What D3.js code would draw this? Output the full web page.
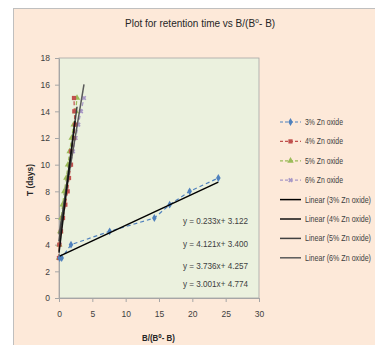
<!DOCTYPE html>
<html>
<head>
<meta charset="utf-8">
<script src="https://cdn.jsdelivr.net/npm/d3@7"></script>
<style>
  body { margin: 0; background: #fff; }
  text { font-family: "Liberation Sans", "DejaVu Sans", sans-serif; }
</style>
</head>
<body>
<svg width="375" height="345"></svg>
<script>
// series labels
var seriesNames = ["3% Zn oxide", "4% Zn oxide", "5% Zn oxide", "6% Zn oxide"];
// retention time (days) per series
var tDays3 = [3, 3, 4, 5, 6, 7, 8, 9];
var tDays = [3, 4, 5, 6, 7, 8, 9, 10, 11, 12, 13, 14, 15];
// B/(B0-B) values
var ratio3 = [0.1, 0.4, 1.8, 7.6, 14.3, 16.6, 19.6, 23.9];
var ratio4 = [0.0, 0.05, 0.3, 0.6, 0.95, 1.3, 1.5, 1.8, 1.8, 2.25, 2.4, 2.3, 2.25];
var ratio5 = [0.0, 0.05, 0.2, 0.35, 0.55, 0.8, 1.1, 1.35, 1.6, 1.9, 2.2, 2.5, 2.7];
var ratio6 = [0.0, 0.1, 0.25, 0.4, 0.65, 0.95, 1.3, 1.7, 2.1, 2.5, 2.9, 3.3, 3.75];
// linear trend lines shown on the chart
var slopes = [0.233, 4.121, 3.736, 3.001];
var intercepts = [3.122, 3.400, 4.257, 4.774];
var equations = ["y = 0.233x+ 3.122", "y = 4.121x+ 3.400", "y = 3.736x+ 4.257", "y = 3.001x+ 4.774"];
var xTicks = [0, 5, 10, 15, 20, 25, 30];
var yTicks = [0, 2, 4, 6, 8, 10, 12, 14, 16, 18];

var colors = ["#4f81bd", "#c0504d", "#9bbb59", "#a898c6"];
var trendColors = ["#000", "#111", "#404040", "#5a5a5a"];
var symbols = [d3.symbolDiamond, d3.symbolSquare, d3.symbolTriangle, d3.symbolCross];

var series = [
  { x: ratio3, y: tDays3 },
  { x: ratio4, y: tDays },
  { x: ratio5, y: tDays },
  { x: ratio6, y: tDays }
];

var svg = d3.select("svg");

// the original uses a narrow font: place text at (px,py) and squeeze it to width w
function narrowAt(sel, px, py, w, rot) {
  sel.each(function(d, i) {
    var t = d3.select(this);
    var ww = typeof w === "function" ? w(d, i) : w;
    var yy = typeof py === "function" ? py(d, i) : py;
    var sx = Math.min(1, ww / this.getComputedTextLength());
    t.attr("transform", "translate(" + px + "," + yy + ")" + (rot ? " rotate(" + rot + ")" : "") + " scale(" + sx + ",1)");
  });
}

// chart area
svg.append("rect").attr("x", 13.5).attr("y", 8.5).attr("width", 380).attr("height", 360)
  .attr("fill", "#fde9d9").attr("stroke", "#bfbfbf");

var x = d3.scaleLinear().domain([0, 30]).range([59, 259]);
var y = d3.scaleLinear().domain([0, 18]).range([298, 58]);

svg.append("rect").attr("x", x(0)).attr("y", y(18)).attr("width", x(30) - x(0)).attr("height", y(0) - y(18))
  .attr("fill", "#ebf1de").attr("stroke", "#a6a6a6").attr("stroke-width", 0.8);

// title
svg.append("text")
  .attr("font-size", 10).attr("fill", "#262626")
  .text("Plot for retention time vs B/(B\u2070- B)")
  .call(narrowAt, 125, 27, 152);

// axes
var xAxis = svg.append("g").attr("transform", "translate(0," + y(0) + ")")
  .call(d3.axisBottom(x).tickValues(xTicks).tickSize(4).tickSizeOuter(0).tickPadding(9));
var yAxis = svg.append("g").attr("transform", "translate(" + x(0) + ",0)")
  .call(d3.axisLeft(y).tickValues(yTicks).tickSize(4).tickSizeOuter(0).tickPadding(5));
[xAxis, yAxis].forEach(function(a) {
  a.select(".domain").attr("stroke", "#a6a6a6");
  a.selectAll(".tick line").attr("stroke", "#a6a6a6");
  a.selectAll(".tick text").attr("fill", "#404040").attr("font-size", 8.5)
    .style("font-family", "'Liberation Sans', sans-serif");
});

svg.append("text")
  .attr("font-size", 9).attr("fill", "#262626").attr("font-weight", "bold")
  .text("B/(B\u2070- B)")
  .call(narrowAt, 142, 341, 33);

svg.append("text")
  .attr("font-size", 9).attr("fill", "#262626").attr("font-weight", "bold").text("T (days)")
  .call(narrowAt, 33, 196, 32, -90);

var line = d3.line().x(function(d) { return x(d[0]); }).y(function(d) { return y(d[1]); });

// data series (drawn back to front)
[3, 2, 1, 0].forEach(function(i) {
  var pts = d3.zip(series[i].x, series[i].y);
  svg.append("path").datum(pts).attr("d", line).attr("fill", "none")
    .attr("stroke", colors[i]).attr("stroke-width", 1.2).attr("stroke-dasharray", "4,3");
  svg.append("g").selectAll("path").data(pts).enter().append("path")
    .attr("transform", function(d) { return "translate(" + x(d[0]) + "," + y(d[1]) + ")" + (i === 3 ? " rotate(45)" : ""); })
    .attr("d", d3.symbol().type(symbols[i]).size(i === 3 ? 14 : 18))
    .attr("fill", colors[i]);
});

// trend lines over each series' x range
[3, 2, 1, 0].forEach(function(i) {
  var ext = d3.extent(series[i].x);
  var pts = ext.map(function(v) { return [v, slopes[i] * v + intercepts[i]]; });
  svg.append("path").datum(pts).attr("d", line).attr("fill", "none")
    .attr("stroke", trendColors[i]).attr("stroke-width", 1.5);
});

// equation labels
var eqY = [224, 247, 269, 287];
svg.selectAll(".eq").data(equations).enter().append("text")
  .attr("font-size", 9).attr("fill", "#404040").text(function(d) { return d; })
  .call(narrowAt, 183, function(d, i) { return eqY[i]; }, 65);

// legend
var legendNames = seriesNames.concat(seriesNames.map(function(n) { return "Linear (" + n + ")"; }));
var leg = svg.append("g").selectAll("g").data(legendNames).enter().append("g")
  .attr("transform", function(d, i) { return "translate(280," + (122 + i * 19.4) + ")"; });
leg.append("line").attr("x1", 0).attr("x2", 21).attr("y1", 0).attr("y2", 0)
  .attr("stroke", function(d, i) { return i < 4 ? colors[i] : trendColors[i - 4]; })
  .attr("stroke-width", function(d, i) { return i < 4 ? 1.2 : 1.5; })
  .attr("stroke-dasharray", function(d, i) { return i < 4 ? "3,2" : null; });
leg.filter(function(d, i) { return i < 4; }).append("path")
  .attr("transform", function(d, i) { return "translate(10.5,0)" + (i === 3 ? " rotate(45)" : ""); })
  .attr("d", function(d, i) { return d3.symbol().type(symbols[i]).size(i === 3 ? 14 : 18)(); })
  .attr("fill", function(d, i) { return colors[i]; });
leg.append("text").attr("font-size", 9).attr("fill", "#404040")
  .text(function(d) { return d; })
  .call(narrowAt, 25, 3, function(d, i) { return i < 4 ? 38 : 66; });
</script>
</body>
</html>
